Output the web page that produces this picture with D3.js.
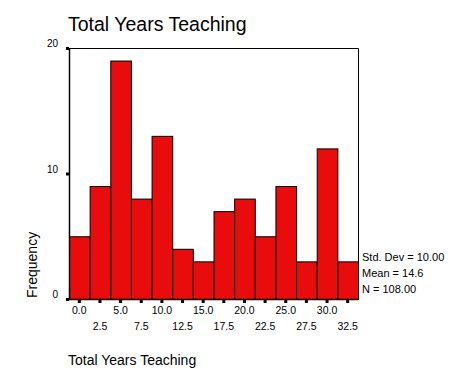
<!DOCTYPE html>
<html>
<head>
<meta charset="utf-8">
<script src="https://cdn.jsdelivr.net/npm/d3@7"></script>
<style>
  body { margin: 0; background: #fff; }
  text { font-family: Arial, "Liberation Sans", sans-serif; fill: #000; }
</style>
</head>
<body>
<div id="chart"></div>
<script>
//// DATA

const binCenters = [0, 2.5, 5, 7.5, 10, 12.5, 15, 17.5, 20, 22.5, 25, 27.5, 30, 32.5];
const frequencies = [5, 9, 19, 8, 13, 4, 3, 7, 8, 5, 9, 3, 12, 3];
const yTicks = [0, 10, 20];
const statLines = ["Std. Dev = 10.00", "Mean = 14.6", "N = 108.00"];

//// LAYOUT

const W = 473, H = 379;
const plot = { left: 69, right: 358, top: 48, bottom: 299 };

const svg = d3.select("#chart").append("svg")
  .attr("width", W).attr("height", H);

const x = d3.scaleLinear()
  .domain([-1.25, 33.75])
  .range([plot.left, plot.right]);

const y = d3.scaleLinear()
  .domain([0, 20])
  .range([plot.bottom, plot.top]);

const binW = 2.5;

// frame (top and right)
svg.append("path")
  .attr("d", `M${plot.left},${plot.top + 0.5}H${plot.right + 0.5}V${plot.bottom}`)
  .attr("fill", "none")
  .attr("stroke", "#000")
  .attr("stroke-width", 1);

// bars
svg.append("g").selectAll("rect")
  .data(binCenters)
  .join("rect")
  .attr("x", (d) => x(d - binW / 2) + 0.5)
  .attr("y", (d, i) => y(frequencies[i]) + 0.5)
  .attr("width", (d) => x(d + binW / 2) - x(d - binW / 2))
  .attr("height", (d, i) => y(0) - y(frequencies[i]))
  .attr("fill", "#e80c0c")
  .attr("stroke", "#000")
  .attr("stroke-width", 1);

// axes lines
svg.append("line")
  .attr("x1", plot.left + 0.5).attr("x2", plot.left + 0.5)
  .attr("y1", plot.top).attr("y2", plot.bottom + 1)
  .attr("stroke", "#000").attr("stroke-width", 1.5);
svg.append("line")
  .attr("x1", plot.left).attr("x2", plot.right)
  .attr("y1", plot.bottom + 0.5).attr("y2", plot.bottom + 0.5)
  .attr("stroke", "#000").attr("stroke-width", 1.5);

// y ticks (small squares) and labels
const yg = svg.append("g");
yg.selectAll("rect")
  .data(yTicks)
  .join("rect")
  .attr("x", plot.left - 3)
  .attr("y", (d) => y(d) - 1)
  .attr("width", 3).attr("height", 3)
  .attr("fill", "#000");
yg.selectAll("text")
  .data(yTicks)
  .join("text")
  .attr("x", plot.left - 11)
  .attr("y", (d) => y(d) - 1)
  .attr("text-anchor", "end")
  .attr("font-size", 10)
  .text((d) => d);

// x ticks (small squares) and staggered labels
const xg = svg.append("g");
xg.selectAll("rect")
  .data(binCenters)
  .join("rect")
  .attr("x", (d) => x(d) - 1.5)
  .attr("y", plot.bottom + 1)
  .attr("width", 3).attr("height", 3)
  .attr("fill", "#000");
xg.selectAll("text")
  .data(binCenters)
  .join("text")
  .attr("x", (d) => x(d))
  .attr("y", (d, i) => (i % 2 === 0 ? 314 : 330))
  .attr("text-anchor", "middle")
  .attr("font-size", 10.5)
  .text((d) => d.toFixed(1));

// stats
svg.append("g").selectAll("text")
  .data(statLines)
  .join("text")
  .attr("x", 362)
  .attr("y", (d, i) => 261 + i * 16)
  .attr("font-size", 11)
  .text((d) => d);

// titles
svg.append("text")
  .attr("x", 68).attr("y", 31)
  .attr("font-size", 19.5)
  .text("Total Years Teaching");

svg.append("text")
  .attr("x", 68).attr("y", 365)
  .attr("font-size", 14)
  .text("Total Years Teaching");

svg.append("text")
  .attr("transform", "translate(37,298) rotate(-90)")
  .attr("font-size", 14)
  .text("Frequency");
</script>
</body>
</html>
